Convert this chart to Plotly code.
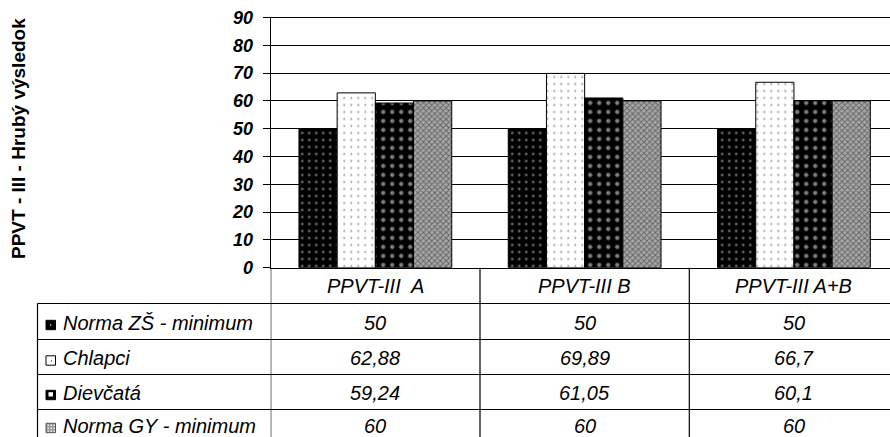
import plotly.graph_objects as go

# ---- data -------------------------------------------------------------
categories = ["PPVT-III  A", "PPVT-III B", "PPVT-III A+B"]
series_names = ["Norma ZŠ - minimum", "Chlapci", "Dievčatá", "Norma GY - minimum"]
norma_zs = [50, 50, 50]
chlapci = [62.88, 69.89, 66.7]
dievcata = [59.24, 61.05, 60.1]
norma_gy = [60, 60, 60]
y_ticks = [0, 10, 20, 30, 40, 50, 60, 70, 80, 90]
y_title = "PPVT - III - Hrubý výsledok"

series_values = [norma_zs, chlapci, dievcata, norma_gy]

# ---- geometry (pixels of the 890x437 page) ----------------------------
W, H = 890, 437
PLOT_LEFT, PLOT_TOP, PLOT_ZERO = 270.7, 17.5, 267.7
CAT_W = 209.3
TABLE_LEFT = 37.5
ROW_LINES = [303.5, 339.5, 374.5, 409.5]
ROW_CENTERS = [322.5, 358.0, 392.5, 425.5]
HEADER_CENTER = 286.0

FONT = "Arial, Liberation Sans, sans-serif"


def fx(p):
    return p / W


def fy(p):
    return 1 - p / H


def fmt(v):
    return f"{v:g}".replace(".", ",")


x_pos = [i + 0.5 for i in range(len(categories))]

patterns = [
    dict(shape=".", fgcolor="white", bgcolor="black", size=7, solidity=0.1),
    dict(shape=".", fgcolor="black", bgcolor="white", size=7, solidity=0.05),
    dict(shape=".", fgcolor="white", bgcolor="black", size=9, solidity=0.18),
    dict(shape="x", fgcolor="#262626", bgcolor="#a8a8a8", size=4, solidity=0.45),
]

fig = go.Figure()
for name, vals, pat in zip(series_names, series_values, patterns):
    fig.add_trace(go.Bar(
        x=x_pos, y=vals, name=name,
        marker=dict(color=pat["bgcolor"], pattern=pat,
                    line=dict(color="black", width=1)),
        showlegend=False, hoverinfo="skip",
    ))

shapes = []
line = dict(color="black", width=1.2)
# continuation of the value axis and the column separators through the table
for b in range(len(categories)):
    shapes.append(dict(type="line", xref="x", yref="paper", x0=b, x1=b,
                       y0=fy(PLOT_ZERO), y1=0, line=line))
# table row lines and left border
for ry in ROW_LINES:
    shapes.append(dict(type="line", xref="paper", yref="paper",
                       x0=fx(TABLE_LEFT), x1=1, y0=fy(ry), y1=fy(ry), line=line))
shapes.append(dict(type="line", xref="paper", yref="paper",
                   x0=fx(TABLE_LEFT), x1=fx(TABLE_LEFT),
                   y0=fy(ROW_LINES[0]), y1=0, line=line))

# legend keys in the table
KEY_X0, KEY_X1 = 46, 55.5


def key_rect(cy, fill, border="black"):
    return dict(type="rect", xref="paper", yref="paper",
                x0=fx(KEY_X0), x1=fx(KEY_X1), y0=fy(cy + 4.7), y1=fy(cy - 4.7),
                fillcolor=fill, line=dict(color=border, width=1))


def small_rect(cx0, cx1, cy0, cy1, fill):
    return dict(type="rect", xref="paper", yref="paper",
                x0=fx(cx0), x1=fx(cx1), y0=fy(cy1), y1=fy(cy0),
                fillcolor=fill, line=dict(width=0))


k0, k1, k2, k3 = [c + 2.5 for c in ROW_CENTERS]
shapes.append(key_rect(k0, "black"))
shapes.append(small_rect(50, 51.2, k0 - 0.8, k0 + 0.4, "white"))
shapes.append(key_rect(k1, "white"))
shapes.append(small_rect(51, 52, k1, k1 + 1, "black"))
shapes.append(key_rect(k2, "black"))
shapes.append(small_rect(48.5, 53, k2 - 2.8, k2 + 1.5, "white"))
shapes.append(key_rect(k3, "#9a9a9a", border="#555555"))
for i in range(3):
    for j in range(3):
        shapes.append(small_rect(47.5 + 3 * i, 49 + 3 * i,
                                 k3 - 3.5 + 3 * j, k3 - 2 + 3 * j, "#e6e6e6"))

annotations = []
txt_font = dict(family=FONT, size=20, color="black", style="italic")
for xp, cat in zip(x_pos, categories):
    annotations.append(dict(x=xp, y=fy(HEADER_CENTER), xref="x", yref="paper",
                            text=cat, showarrow=False, font=txt_font,
                            xanchor="center", yanchor="middle"))
for rc, name, vals in zip(ROW_CENTERS, series_names, series_values):
    annotations.append(dict(x=fx(61), y=fy(rc), xref="paper", yref="paper",
                            text=name, showarrow=False, font=txt_font,
                            xanchor="left", yanchor="middle"))
    for xp, v in zip(x_pos, vals):
        annotations.append(dict(x=xp, y=fy(rc), xref="x", yref="paper",
                                text=fmt(v), showarrow=False, font=txt_font,
                                xanchor="center", yanchor="middle"))
annotations.append(dict(x=fx(18), y=fy(139), xref="paper", yref="paper",
                        text=y_title, textangle=-90, showarrow=False,
                        font=dict(family=FONT, size=19, color="black", weight="bold"),
                        xanchor="center", yanchor="middle"))

fig.update_layout(
    width=W, height=H,
    margin=dict(l=0, r=0, t=0, b=0, autoexpand=False),
    paper_bgcolor="white", plot_bgcolor="white",
    barmode="group", bargap=0.27, bargroupgap=0,
    shapes=shapes, annotations=annotations,
    xaxis=dict(domain=[fx(PLOT_LEFT), 1], range=[0, (W - PLOT_LEFT) / CAT_W],
               showticklabels=False, ticks="", showgrid=False, zeroline=False,
               showline=True, linecolor="black", linewidth=1.2, mirror=True,
               automargin=False, fixedrange=True),
    yaxis=dict(domain=[fy(PLOT_ZERO), fy(PLOT_TOP)], range=[0, 90],
               tickvals=y_ticks, ticktext=[str(t) for t in y_ticks],
               ticks="outside", ticklen=7, tickcolor="black", tickwidth=1.2,
               ticklabelstandoff=6,
               tickfont=dict(family=FONT, size=18, color="black",
                             weight="bold", style="italic"),
               showgrid=True, gridcolor="black", gridwidth=1.2,
               zeroline=False, showline=True, linecolor="black", linewidth=1.2,
               automargin=False, fixedrange=True),
)

fig.write_html("out.html")
